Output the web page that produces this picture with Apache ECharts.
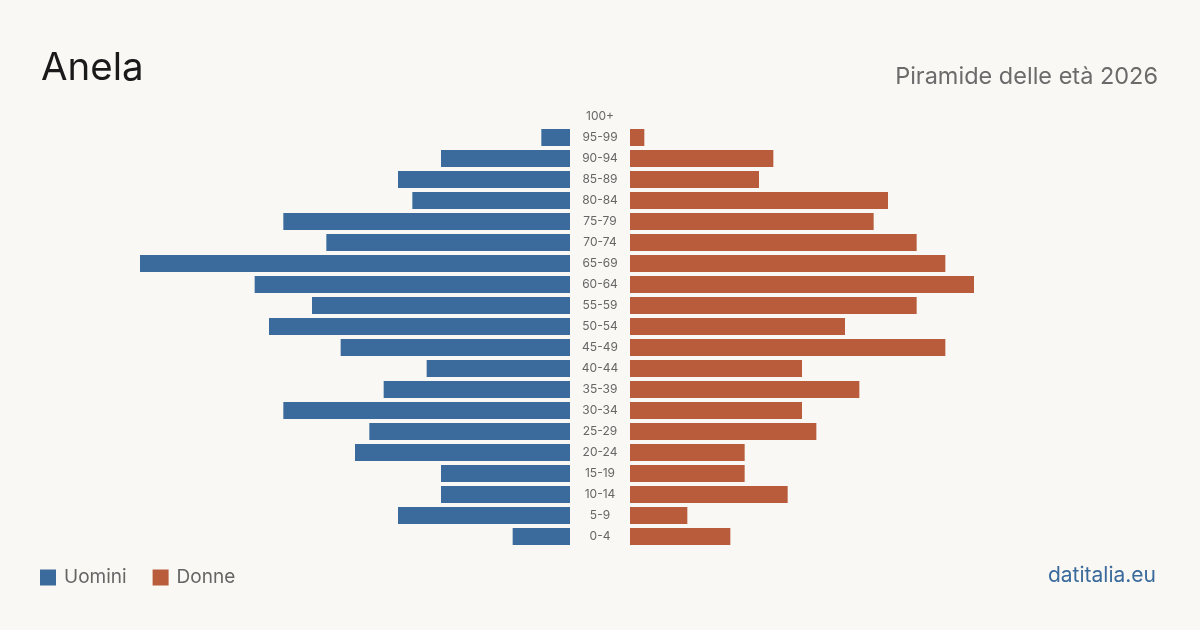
<!DOCTYPE html>
<html>
<head>
<meta charset="utf-8">
<script src="https://cdn.jsdelivr.net/npm/echarts@6/dist/echarts.min.js"></script>
<style>
  html, body { margin: 0; padding: 0; background: #f9f8f4; }
  #main { width: 1200px; height: 630px; }
</style>
</head>
<body>
<div id="main"></div>
<script>
// classi di età, dal basso verso l'alto
var eta = ['0-4', '5-9', '10-14', '15-19', '20-24', '25-29', '30-34', '35-39', '40-44', '45-49',
  '50-54', '55-59', '60-64', '65-69', '70-74', '75-79', '80-84', '85-89', '90-94', '95-99', '100+'];
var uomini = [4, 12, 9, 9, 15, 14, 20, 13, 10, 16, 21, 18, 22, 30, 17, 20, 11, 12, 9, 2, 0];
var donne = [7, 4, 11, 8, 8, 13, 12, 16, 12, 22, 15, 20, 24, 22, 20, 17, 18, 9, 10, 1, 0];

var blu = '#3b6b9c';
var rosso = '#b85c3c';
var font = 'Inter';

var myChart = echarts.init(document.getElementById('main'));
var option = {
  backgroundColor: '#f9f8f4',
  textStyle: { fontFamily: font },
  title: [
    {
      text: 'Anela',
      left: 41, top: 49, padding: 0,
      textStyle: { fontFamily: font, fontSize: 38.5, fontWeight: 'normal', color: '#1a1a1a' }
    },
    {
      text: 'Piramide delle età 2026',
      right: 42, top: 65, padding: 0,
      textStyle: { fontFamily: font, fontSize: 23.5, fontWeight: 'normal', color: '#6b6b6b' }
    },
    {
      text: 'datitalia.eu',
      right: 44, top: 565, padding: 0,
      textStyle: { fontFamily: font, fontSize: 21, fontWeight: 'normal', color: blu }
    }
  ],
  legend: {
    left: 40, top: 568, padding: 0,
    icon: 'rect',
    itemWidth: 16, itemHeight: 16,
    itemGap: 26,
    textStyle: { fontFamily: font, fontSize: 19, color: '#666', padding: [0, 0, 0, 3] },
    data: ['Uomini', 'Donne']
  },
  grid: [
    { left: 140, width: 430, top: 106, height: 441 },
    { left: 630, width: 430, top: 106, height: 441 }
  ],
  xAxis: [
    { gridIndex: 0, type: 'value', min: 0, max: 30, inverse: true, show: false },
    { gridIndex: 1, type: 'value', min: 0, max: 30, show: false }
  ],
  yAxis: [
    {
      gridIndex: 0, type: 'category', data: eta, position: 'right',
      axisLine: { show: false }, axisTick: { show: false },
      axisLabel: { align: 'center', margin: 30, fontFamily: font, fontSize: 12, color: '#666',
        padding: [0, 0, 2, 0] }
    },
    {
      gridIndex: 1, type: 'category', data: eta,
      axisLine: { show: false }, axisTick: { show: false }, axisLabel: { show: false }
    }
  ],
  series: [
    {
      name: 'Uomini', type: 'bar', xAxisIndex: 0, yAxisIndex: 0,
      data: uomini, barCategoryGap: '19%', itemStyle: { color: blu }
    },
    {
      name: 'Donne', type: 'bar', xAxisIndex: 1, yAxisIndex: 1,
      data: donne, barCategoryGap: '19%', itemStyle: { color: rosso }
    }
  ]
};
myChart.setOption(option);
</script>
</body>
</html>
